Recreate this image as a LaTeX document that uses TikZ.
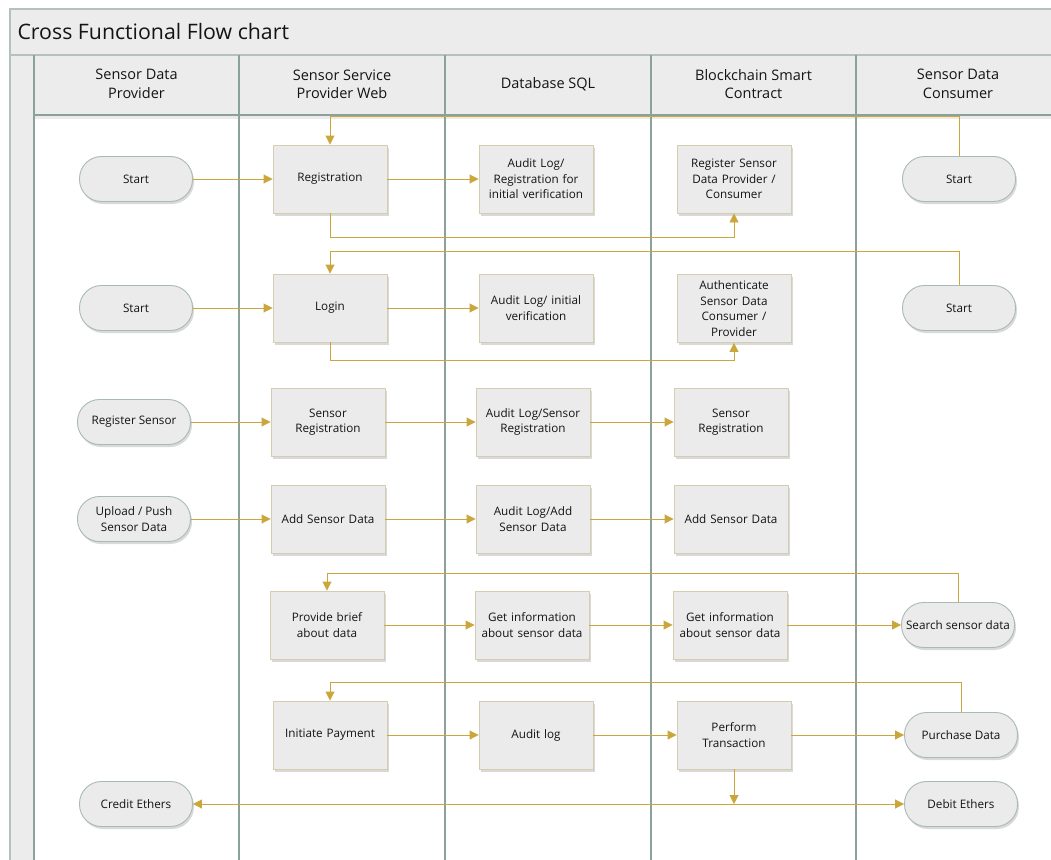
\documentclass[tikz,border=0pt]{standalone}
\usepackage{fontspec}
\setmainfont{Open Sans}
\usetikzlibrary{arrows.meta,shadows}
\definecolor{gold}{HTML}{CBA73B}
\definecolor{lanecol}{HTML}{8AA29B}
\definecolor{framecol}{HTML}{B3C2BD}
\definecolor{boxfill}{HTML}{EBEBEB}
\definecolor{boxdraw}{HTML}{D4CDB0}
\definecolor{termdraw}{HTML}{A9BAB4}
\definecolor{hdrfill}{HTML}{ECECEC}
\definecolor{txt}{HTML}{141414}
\begin{document}
\begin{tikzpicture}[x=1pt,y=-1pt,
  nodefont/.style={font=\fontsize{11.7}{15.5}\selectfont, text=txt},
  proc/.style={nodefont, draw=boxdraw, line width=0.9pt, fill=boxfill,
    minimum width=114pt, minimum height=68pt, text width=110pt, inner sep=2pt, align=center,
    drop shadow={shadow xshift=1.5pt, shadow yshift=-2.5pt, opacity=0.15, fill=black}},
  term/.style={nodefont, draw=termdraw, line width=0.9pt, fill=boxfill, rectangle, rounded corners=22pt,
    minimum width=113pt, minimum height=45pt, inner sep=1pt, align=center,
    drop shadow={shadow xshift=1.5pt, shadow yshift=-2.5pt, opacity=0.15, fill=black}},
  hdr/.style={font=\fontsize{14.5}{18.5}\selectfont, text=txt, align=center},
  flow/.style={draw=gold, line width=0.9pt, -{Triangle[length=9pt,width=9pt]}},
  lane/.style={draw=lanecol, line width=1.6pt}]
\useasboundingbox (0,0) rectangle (1051,859);
\clip (0,0) rectangle (1051,859);
% frame
\fill[white] (0,0) rectangle (1051,859);
\fill[hdrfill] (10,9) rectangle (1060,115);
\fill[hdrfill] (10,115) rectangle (34,870);
\fill[black, opacity=0.08] (34,116) rectangle (1060,119);
\draw[framecol, line width=1.2pt] (1060,9) -- (10,9) -- (10,870);
\draw[framecol, line width=1.2pt] (10,55) -- (1060,55);
\draw[lane] (34,115) -- (1060,115);
\node[anchor=west, font=\fontsize{21.3}{25}\selectfont, text=txt] (title) at (14,32) {Cross Functional Flow chart};
% lanes
\foreach \lx in {34,239,445,651,856} {\draw[lane] (\lx,55) -- (\lx,870);}
\node[hdr] (h1) at (136.5,84) {Sensor Data\\Provider};
\node[hdr] (h2) at (342,84) {Sensor Service\\Provider Web};
\node[hdr] (h3) at (548,84) {Database SQL};
\node[hdr] (h4) at (753.5,84) {Blockchain Smart\\Contract};
\node[hdr] (h5) at (958,84) {Sensor Data\\Consumer};
% row 1
\node[term] (s1) at (136,179) {Start};
\node[proc] (reg) at (330,179) {Registration};
\node[proc] (alreg) at (536,179) {Audit Log/\\Registration for\\initial verification};
\node[proc] (regsdp) at (734,179) {Register Sensor\\Data Provider /\\Consumer};
\node[term] (cs1) at (959,179) {Start};
% row 2
\node[term] (s2) at (136,308) {Start};
\node[proc] (login) at (330,308) {Login};
\node[proc] (alinit) at (536,308) {Audit Log/ initial\\verification};
\node[proc] (auth) at (734,308.5) {Authenticate\\Sensor Data\\Consumer /\\Provider};
\node[term] (cs2) at (959,308) {Start};
% row 3
\node[term] (regsensor) at (134,422) {Register Sensor};
\node[proc] (sreg) at (328,422) {Sensor\\Registration};
\node[proc] (alsreg) at (533,422) {Audit Log/Sensor\\Registration};
\node[proc] (bcsreg) at (731,422) {Sensor\\Registration};
% row 4
\node[term] (upload) at (134,519) {Upload / Push\\Sensor Data};
\node[proc] (add) at (328,519) {Add Sensor Data};
\node[proc] (aladd) at (533,519) {Audit Log/Add\\Sensor Data};
\node[proc] (bcadd) at (731,519) {Add Sensor Data};
% row 5
\node[proc] (brief) at (327,625) {Provide brief\\about data};
\node[proc] (getinfo) at (532,625) {Get information\\about sensor data};
\node[proc] (bcget) at (730,625) {Get information\\about sensor data};
\node[term] (search) at (958,625) {Search sensor data};
% row 6
\node[proc] (pay) at (330,735) {Initiate Payment};
\node[proc] (allog) at (536,735) {Audit log};
\node[proc] (trans) at (734,735) {Perform\\Transaction};
\node[term] (purch) at (961,735) {Purchase Data};
% row 7
\node[term] (credit) at (136,804) {Credit Ethers};
\node[term] (debit) at (961,804) {Debit Ethers};
% connectors
\draw[flow] (s1) -- (reg);
\draw[flow] (reg) -- (alreg);
\draw[flow] (reg.south) -- ++(0,24) -| (regsdp.south);
\draw[flow] (cs1.north) -- ++(0,-40) -| (reg.north);
\draw[flow] (s2) -- (login);
\draw[flow] (login) -- (alinit);
\draw[flow] (login.south) -- ++(0,18) -| (auth.south);
\draw[flow] (cs2.north) -- ++(0,-34) -| (login.north);
\draw[flow] (regsensor) -- (sreg);
\draw[flow] (sreg) -- (alsreg);
\draw[flow] (alsreg) -- (bcsreg);
\draw[flow] (upload) -- (add);
\draw[flow] (add) -- (aladd);
\draw[flow] (aladd) -- (bcadd);
\draw[flow] (search.north) -- ++(0,-29) -| (brief.north);
\draw[flow] (brief) -- (getinfo);
\draw[flow] (getinfo) -- (bcget);
\draw[flow] (bcget) -- (search);
\draw[flow] (purch.north) -- ++(0,-30) -| (pay.north);
\draw[flow] (pay) -- (allog);
\draw[flow] (allog) -- (trans);
\draw[flow] (trans) -- (purch);
\draw[flow, {Triangle[length=9pt,width=9pt]}-{Triangle[length=9pt,width=9pt]}] (credit.east) -- (debit.west);
\draw[flow] (trans.south) -- (trans.south |- credit.east);
\end{tikzpicture}
\end{document}
